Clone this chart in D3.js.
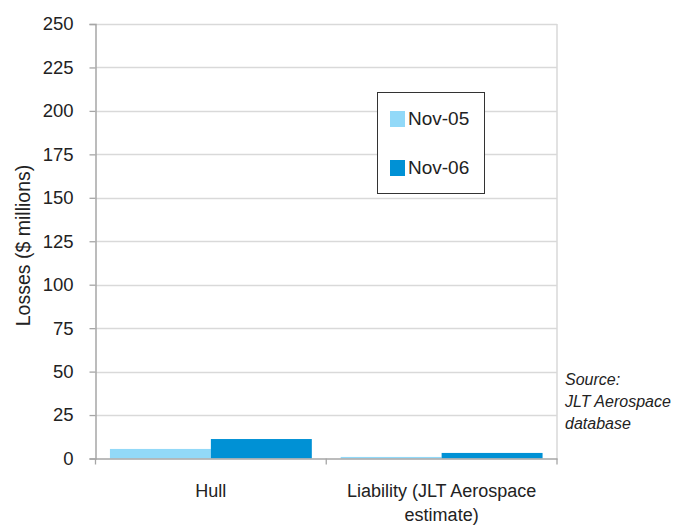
<!DOCTYPE html>
<html>
<head>
<meta charset="utf-8">
<script src="https://cdn.jsdelivr.net/npm/d3@7"></script>
<style>
  body { margin: 0; background: #fff; }
  text { font-family: "Liberation Sans", Arial, sans-serif; fill: #222; }
</style>
</head>
<body>
<svg id="chart" width="690" height="527"></svg>
<script>
// chart data
const categories = ["Hull", "Liability (JLT Aerospace estimate)"];
const seriesNames = ["Nov-05", "Nov-06"];
const nov05 = [5.5, 0.9];
const nov06 = [11.2, 3.2];
const yTicks = [0, 25, 50, 75, 100, 125, 150, 175, 200, 225, 250];

const seriesColors = ["#92d9f8", "#0091d5"];
const margin = {top: 24, left: 95.5, right: 133, bottom: 68.5};
const width = 690, height = 527;

const svg = d3.select("#chart");

const x = d3.scaleBand()
    .domain(categories)
    .range([margin.left, width - margin.right])
    .paddingInner(0)
    .paddingOuter(0);

const xInner = d3.scaleBand()
    .domain(seriesNames)
    .range([0, x.bandwidth()])
    .paddingOuter(0.143);

const y = d3.scaleLinear()
    .domain([0, 250])
    .range([height - margin.bottom, margin.top]);

// gridlines
svg.append("g")
    .selectAll("line")
    .data(yTicks.filter(d => d > 0))
    .join("line")
    .attr("x1", margin.left)
    .attr("x2", width - margin.right)
    .attr("y1", d => Math.round(y(d)) + 0.5)
    .attr("y2", d => Math.round(y(d)) + 0.5)
    .style("stroke", "#d9d9d9")
    .style("stroke-width", 1.3);

// right border of plot area
svg.append("line")
    .attr("x1", width - margin.right).attr("x2", width - margin.right)
    .attr("y1", y(250)).attr("y2", y(0))
    .style("stroke", "#d9d9d9")
    .style("stroke-width", 1.5);

// bars
const rows = categories.map((c, i) => ({cat: c, values: [nov05[i], nov06[i]]}));
svg.append("g")
    .selectAll("g")
    .data(rows)
    .join("g")
    .attr("transform", d => `translate(${x(d.cat)},0)`)
    .selectAll("rect")
    .data(d => d.values.map((v, i) => ({name: seriesNames[i], value: v, i})))
    .join("rect")
    .attr("x", d => xInner(d.name))
    .attr("width", xInner.bandwidth())
    .attr("y", d => y(d.value))
    .attr("height", d => y(0) - y(d.value))
    .style("fill", d => seriesColors[d.i]);

// y axis
const yAxis = svg.append("g")
    .attr("transform", `translate(${margin.left},0)`)
    .call(d3.axisLeft(y).tickValues(yTicks).tickSize(6).tickPadding(16));
yAxis.select(".domain").style("stroke", "#a6a6a6").style("stroke-width", 1.5);
yAxis.selectAll(".tick line").style("stroke", "#a6a6a6").style("stroke-width", 1.3);
yAxis.selectAll(".tick text")
    .style("font-size", "18.5px")
    .style("font-family", "Liberation Sans, Arial, sans-serif")
    .style("fill", "#222");

// x axis
const xAxis = svg.append("g")
    .attr("transform", `translate(0,${y(0)})`)
    .call(d3.axisBottom(x).tickSize(0).tickFormat(""));
xAxis.select(".domain").style("stroke", "#a6a6a6").style("stroke-width", 1.5);
xAxis.selectAll(".tick").remove();

// category boundary ticks
const boundaries = [margin.left, x(categories[1]), width - margin.right];
svg.append("g")
    .selectAll("line")
    .data(boundaries)
    .join("line")
    .attr("x1", d => d).attr("x2", d => d)
    .attr("y1", y(0)).attr("y2", y(0) + 6)
    .style("stroke", "#a6a6a6")
    .style("stroke-width", 1.3);

// category labels (wrapped)
const catLines = [["Hull"], ["Liability (JLT Aerospace", "estimate)"]];
svg.append("g")
    .selectAll("text")
    .data(categories)
    .join("text")
    .attr("text-anchor", "middle")
    .attr("x", d => x(d) + x.bandwidth() / 2)
    .attr("y", 497)
    .style("font-size", "18px")
    .each(function (d, i) {
        d3.select(this).selectAll("tspan")
            .data(catLines[i])
            .join("tspan")
            .attr("x", x(d) + x.bandwidth() / 2)
            .attr("dy", (t, j) => j === 0 ? 0 : 24)
            .text(t => t);
    });

// axis title
svg.append("text")
    .attr("transform", "translate(30,245.5) rotate(-90)")
    .attr("text-anchor", "middle")
    .style("font-size", "19.5px")
    .text("Losses ($ millions)");

// legend
const legend = svg.append("g").attr("transform", "translate(377.5,92.5)");
legend.append("rect")
    .attr("width", 107).attr("height", 101)
    .style("fill", "#fff")
    .style("stroke", "#333")
    .style("stroke-width", 1);
const item = legend.selectAll("g.item")
    .data(seriesNames)
    .join("g")
    .attr("class", "item")
    .attr("transform", (d, i) => `translate(12.5,${18.5 + i * 49})`);
item.append("rect")
    .attr("width", 15).attr("height", 16)
    .style("fill", (d, i) => seriesColors[i]);
item.append("text")
    .attr("x", 18).attr("y", 14)
    .style("font-size", "19px")
    .text(d => d);

// source note
const source = svg.append("text")
    .attr("x", 565).attr("y", 385)
    .style("font-size", "16px")
    .style("font-style", "italic");
source.selectAll("tspan")
    .data(["Source:", "JLT Aerospace", "database"])
    .join("tspan")
    .attr("x", 565)
    .attr("dy", (d, i) => i === 0 ? 0 : 22)
    .text(d => d);
</script>
</body>
</html>
